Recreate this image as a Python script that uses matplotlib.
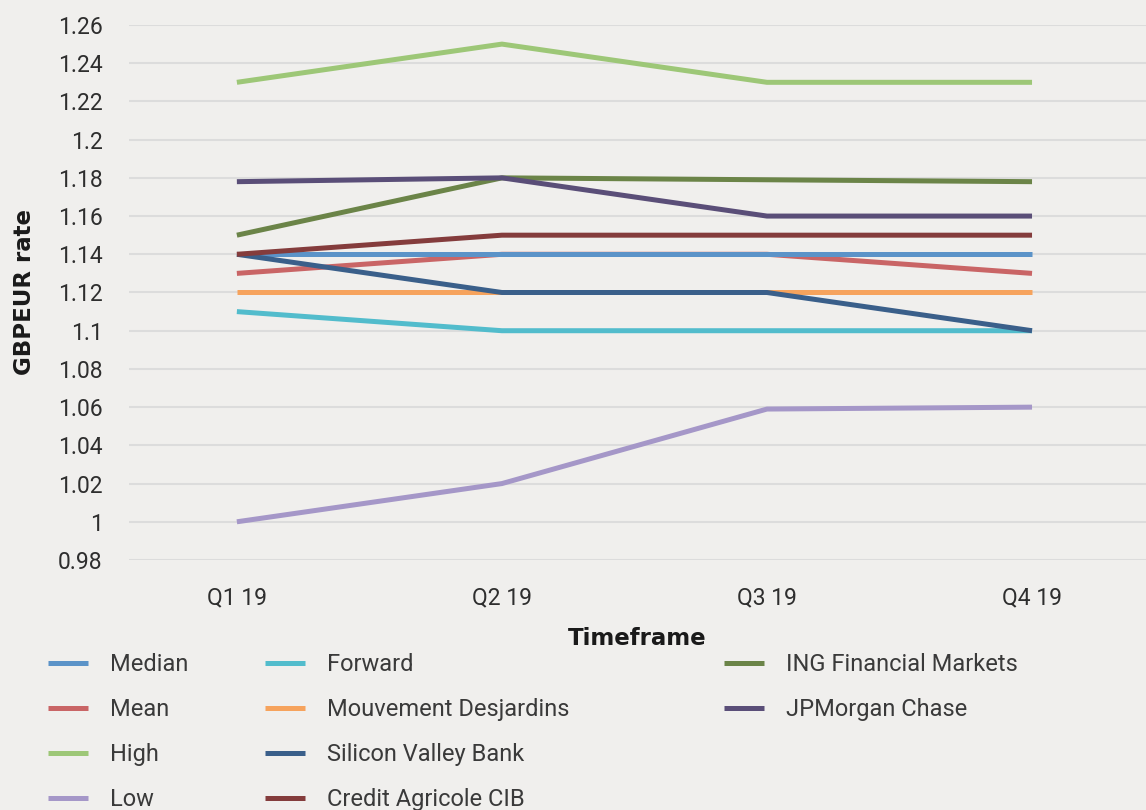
import matplotlib
matplotlib.use("Agg")
import matplotlib.pyplot as plt

# quarters on the x axis
quarters = ["Q1 19", "Q2 19", "Q3 19", "Q4 19"]

# GBPEUR forecasts per source
median = [1.14, 1.14, 1.14, 1.14]
mean = [1.13, 1.14, 1.14, 1.13]
high = [1.23, 1.25, 1.23, 1.23]
low = [1.00, 1.02, 1.059, 1.06]
forward = [1.11, 1.10, 1.10, 1.10]
desjardins = [1.12, 1.12, 1.12, 1.12]
svb = [1.14, 1.12, 1.12, 1.10]
credit_agricole = [1.14, 1.15, 1.15, 1.15]
ing = [1.15, 1.18, 1.179, 1.178]
jpmorgan = [1.178, 1.18, 1.16, 1.16]

series_names = ["Median", "Mean", "High", "Low", "Forward", "Mouvement Desjardins",
                "Silicon Valley Bank", "Credit Agricole CIB", "ING Financial Markets",
                "JPMorgan Chase"]
series_values = [median, mean, high, low, forward, desjardins, svb,
                 credit_agricole, ing, jpmorgan]
colors = ["#5b93c8", "#c96566", "#9dc777", "#a597c8", "#52bccc", "#f6a35d",
          "#3a5f8a", "#843c3c", "#6b8448", "#5a4e78"]

y_ticks = [0.98, 1.0, 1.02, 1.04, 1.06, 1.08, 1.1, 1.12, 1.14, 1.16, 1.18, 1.2,
           1.22, 1.24, 1.26]
y_tick_labels = ["0.98", "1", "1.02", "1.04", "1.06", "1.08", "1.1", "1.12", "1.14",
                 "1.16", "1.18", "1.2", "1.22", "1.24", "1.26"]

bg = "#f0efed"
tick_font = ["Roboto", "DejaVu Sans"]

fig = plt.figure(figsize=(11.46, 8.10), dpi=100, facecolor=bg)
ax = fig.add_axes([129 / 1146, 1 - 560 / 810, 1 - 129 / 1146, (560 - 25) / 810])
ax.set_facecolor(bg)

x = list(range(len(quarters)))
handles = []
for i, (name, vals, c) in enumerate(zip(series_names, series_values, colors)):
    z = 3.5 if name == "Median" else 2 + i  # median sits on top of mean
    line, = ax.plot(x, vals, color=c, lw=3.6, solid_capstyle="butt", zorder=z, label=name)
    handles.append(line)

ax.set_xlim(-0.407, 3.43)
ax.set_ylim(0.98, 1.26)
ax.set_xticks(x)
ax.set_xticklabels(quarters, family=tick_font, fontsize=16.5, color="#2e2e2e")
ax.set_yticks(y_ticks)
ax.set_yticklabels(y_tick_labels, family=tick_font, fontsize=16.5, color="#2e2e2e")
ax.tick_params(length=0, pad=19)
ax.grid(axis="y", color="#dcdcdc", lw=1.5, zorder=0)
ax.set_axisbelow(True)
for s in ax.spines.values():
    s.set_visible(False)

ax.set_xlabel("Timeframe", fontweight="bold", fontsize=16.5, color="#1a1a1a", labelpad=13)
ax.set_ylabel("GBPEUR rate", fontweight="bold", fontsize=16.5, color="#1a1a1a", labelpad=16)

# legend split into three columns with uneven spacing
col_x = [48 / 1146, 265 / 1146, 724 / 1146]
groups = [handles[0:4], handles[4:8], handles[8:10]]
for cx, grp in zip(col_x, groups):
    fig.legend(handles=grp, loc="upper left", bbox_to_anchor=(cx, 1 - 653 / 810),
               frameon=False, borderpad=0, borderaxespad=0, handlelength=1.7,
               handletextpad=0.93, labelspacing=0.93,
               prop={"family": tick_font, "size": 17}, labelcolor="#3a3a3a")

fig.savefig("out.png", dpi=100, facecolor=bg)
